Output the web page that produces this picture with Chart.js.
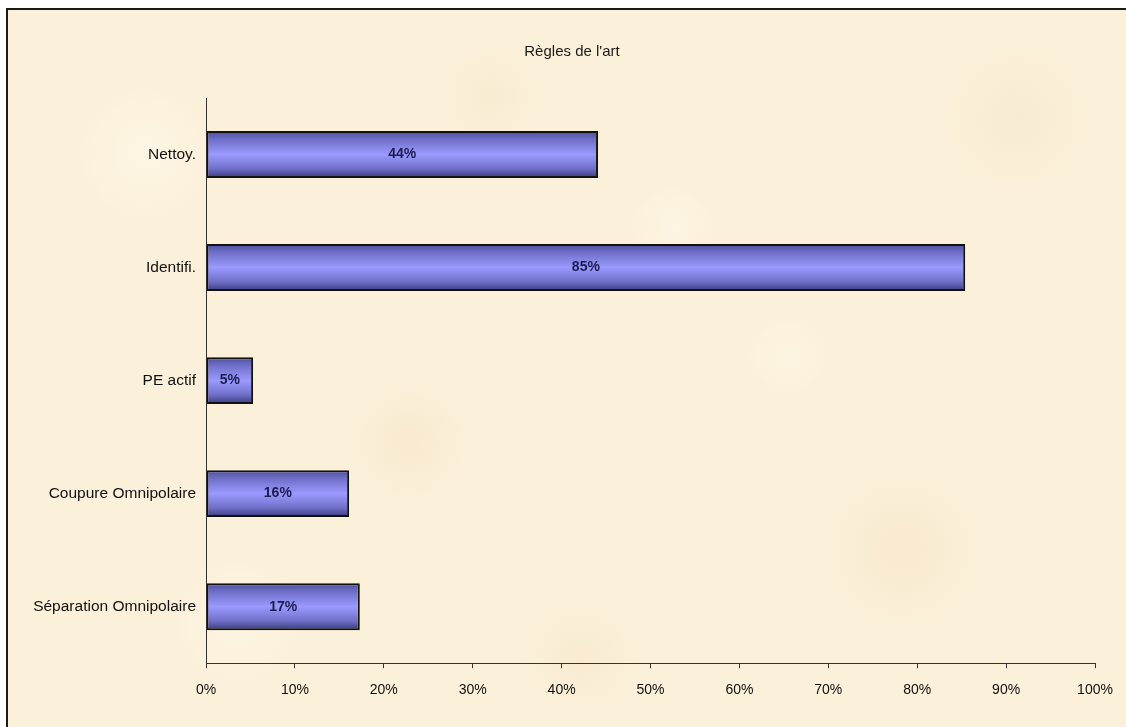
<!DOCTYPE html>
<html>
<head>
<meta charset="utf-8">
<script src="https://cdn.jsdelivr.net/npm/chart.js@4.4.0/dist/chart.umd.min.js"></script>
<style>
    html, body { margin: 0; padding: 0; background: #fff; overflow: hidden; }
    #frame {
        position: absolute; left: 6px; top: 8px; width: 1146px; height: 719px;
        border-top: 2px solid #1a1a1a; border-left: 2px solid #1a1a1a;
        background-color: #fbf0d9;
        background-image:
            radial-gradient(circle at 12% 20%, rgba(255,250,238,0.5) 0, rgba(255,250,238,0) 7%),
            radial-gradient(circle at 35% 60%, rgba(240,222,190,0.35) 0, rgba(240,222,190,0) 7%),
            radial-gradient(circle at 58% 30%, rgba(255,250,238,0.45) 0, rgba(255,250,238,0) 6%),
            radial-gradient(circle at 78% 75%, rgba(240,222,190,0.35) 0, rgba(240,222,190,0) 8%),
            radial-gradient(circle at 88% 15%, rgba(240,224,195,0.3) 0, rgba(240,224,195,0) 7%),
            radial-gradient(circle at 20% 85%, rgba(255,250,238,0.45) 0, rgba(255,250,238,0) 7%),
            radial-gradient(circle at 50% 90%, rgba(242,226,196,0.35) 0, rgba(242,226,196,0) 7%),
            radial-gradient(circle at 68% 48%, rgba(255,250,238,0.4) 0, rgba(255,250,238,0) 6%),
            radial-gradient(circle at 42% 12%, rgba(242,226,196,0.3) 0, rgba(242,226,196,0) 6%);
    }
    #wrap { position: absolute; left: 0; top: 0; width: 1146px; height: 719px; }
    #title {
        position: absolute; left: 464px; top: 32px; width: 200px; text-align: center;
        font: 15px "Liberation Sans", Arial, sans-serif; color: #1a1a1a;
    }
</style>
</head>
<body>
<div id="frame">
    <div id="wrap"><canvas id="artChart"></canvas></div>
    <div id="title"></div>
</div>
<script>
const chartTitle = "Règles de l'art";
const categories = ['Nettoy.', 'Identifi.', 'PE actif', 'Coupure Omnipolaire', 'Séparation Omnipolaire'];
const values = [44.1, 85.4, 5.3, 16.1, 17.3];
const axisMax = 100;
const axisStep = 10;

const FONT = '"Liberation Sans", Arial, sans-serif';
const BAR_FRACTION = 0.415;

document.getElementById('title').textContent = chartTitle;

function barGradient(context) {
    const chart = context.chart;
    const yScale = chart.scales.y;
    if (!chart.chartArea || !yScale || context.dataIndex === undefined) {
        return '#9999ff';
    }
    const yc = yScale.getPixelForValue(context.dataIndex);
    const half = (yScale.bottom - yScale.top) / categories.length * BAR_FRACTION / 2;
    const g = chart.ctx.createLinearGradient(0, yc - half, 0, yc + half);
    g.addColorStop(0, '#4d4d9c');
    g.addColorStop(0.2, '#7272cc');
    g.addColorStop(0.5, '#9a9aff');
    g.addColorStop(0.8, '#7070c8');
    g.addColorStop(1, '#38387e');
    return g;
}

const valueLabels = {
    id: 'valueLabels',
    afterDatasetsDraw(chart) {
        const ctx = chart.ctx;
        const meta = chart.getDatasetMeta(0);
        ctx.save();
        ctx.font = 'bold 14px ' + FONT;
        ctx.fillStyle = '#1c1c4e';
        ctx.textAlign = 'center';
        ctx.textBaseline = 'middle';
        meta.data.forEach((bar, i) => {
            const p = bar.getProps(['x', 'y', 'base'], true);
            ctx.fillText(Math.round(values[i]) + '%', (p.x + p.base) / 2, p.y);
        });
        ctx.restore();
    }
};

new Chart(document.getElementById('artChart').getContext('2d'), {
    type: 'bar',
    data: {
        labels: categories,
        datasets: [{
            data: values,
            backgroundColor: barGradient,
            borderColor: '#111',
            borderWidth: 2,
            borderSkipped: false,
            categoryPercentage: 1,
            barPercentage: BAR_FRACTION
        }]
    },
    options: {
        indexAxis: 'y',
        responsive: true,
        maintainAspectRatio: false,
        animation: false,
        layout: { padding: { left: 0, right: 59, top: 88, bottom: 16 } },
        plugins: {
            legend: { display: false },
            tooltip: { enabled: false },
            title: { display: false }
        },
        scales: {
            x: {
                min: 0,
                max: axisMax,
                ticks: {
                    stepSize: axisStep,
                    color: '#111',
                    padding: 14,
                    font: { family: FONT, size: 14 },
                    callback: v => v + '%'
                },
                grid: { drawOnChartArea: false, drawTicks: true, tickLength: 5, color: '#333', lineWidth: 1 },
                border: { display: true, color: '#333', width: 1 }
            },
            y: {
                afterFit(scale) { scale.width = 198; },
                ticks: {
                    color: '#111',
                    padding: 2,
                    font: { family: FONT, size: 15.5 }
                },
                grid: { display: false },
                border: { display: true, color: '#333', width: 1 }
            }
        }
    },
    plugins: [valueLabels]
});
</script>
</body>
</html>
